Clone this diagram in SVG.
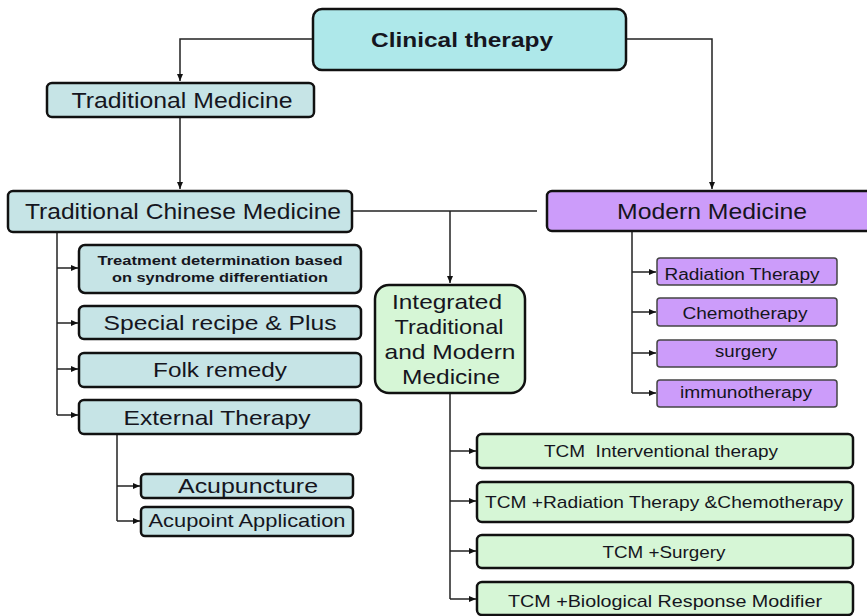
<svg xmlns="http://www.w3.org/2000/svg" width="867" height="616" viewBox="0 0 867 616">
<style>
  .box{stroke:#111;stroke-width:2.5}
  .top{fill:#aee8ea}
  .tcm{fill:#c6e4e6}
  .mod{fill:#cc9cfa}
  .sub{fill:#cc9cfa;stroke:#444;stroke-width:1.5}
  .grn{fill:#d6f6d6}
  .t{font-family:"Liberation Sans",Arial,sans-serif;fill:#151520;text-anchor:middle}
  .c{stroke:#222;stroke-width:1.5;fill:none}
</style>
<defs>
  <marker id="ah" markerWidth="8" markerHeight="8" refX="7" refY="4" orient="auto" markerUnits="userSpaceOnUse">
    <path d="M0,1 L7,4 L0,7 Z" fill="#111"/>
  </marker>
</defs>
<rect width="867" height="616" fill="#fff"/>
<g id="connectors">
  <path class="c" d="M313,39 H180 V81" marker-end="url(#ah)"/>
  <path class="c" d="M626,39 H712 V189" marker-end="url(#ah)"/>
  <path class="c" d="M180,117 V189" marker-end="url(#ah)"/>
  <path class="c" d="M352,211 H537"/>
  <path class="c" d="M450,211 V283" marker-end="url(#ah)"/>
  <path class="c" d="M57,232 V415"/>
  <path class="c" d="M57,268 H78" marker-end="url(#ah)"/>
  <path class="c" d="M57,323 H78" marker-end="url(#ah)"/>
  <path class="c" d="M57,369 H78" marker-end="url(#ah)"/>
  <path class="c" d="M57,415 H78" marker-end="url(#ah)"/>
  <path class="c" d="M117,434 V521"/>
  <path class="c" d="M117,486 H140" marker-end="url(#ah)"/>
  <path class="c" d="M117,521 H140" marker-end="url(#ah)"/>
  <path class="c" d="M632,231 V393"/>
  <path class="c" d="M632,272 H656" marker-end="url(#ah)"/>
  <path class="c" d="M632,312 H656" marker-end="url(#ah)"/>
  <path class="c" d="M632,353 H656" marker-end="url(#ah)"/>
  <path class="c" d="M632,393 H656" marker-end="url(#ah)"/>
  <path class="c" d="M450,393 V599"/>
  <path class="c" d="M450,451 H476" marker-end="url(#ah)"/>
  <path class="c" d="M450,501 H476" marker-end="url(#ah)"/>
  <path class="c" d="M450,551 H476" marker-end="url(#ah)"/>
  <path class="c" d="M450,599 H476" marker-end="url(#ah)"/>
</g>
<g id="clinical">
  <rect class="box top" x="313" y="9" width="313" height="61" rx="9"/>
  <text class="t" x="462" y="47" font-size="21" font-weight="bold" textLength="182" lengthAdjust="spacingAndGlyphs">Clinical therapy</text>
</g>
<g id="traditional">
  <rect class="box tcm" x="47" y="83" width="267" height="34" rx="5"/>
  <text class="t" x="182" y="108" font-size="22" textLength="221" lengthAdjust="spacingAndGlyphs">Traditional Medicine</text>
</g>
<g id="tcm">
  <rect class="box tcm" x="8" y="191" width="344" height="41" rx="5"/>
  <text class="t" x="183" y="219" font-size="22" textLength="316" lengthAdjust="spacingAndGlyphs">Traditional Chinese Medicine</text>
</g>
<g id="modern">
  <rect class="box mod" x="547" y="191" width="330" height="40" rx="5"/>
  <text class="t" x="712" y="219" font-size="22" textLength="190" lengthAdjust="spacingAndGlyphs">Modern Medicine</text>
</g>
<g id="treatment">
  <rect class="box tcm" x="79" y="245" width="282" height="48" rx="6"/>
  <text class="t" x="220" y="265" font-size="13" font-weight="bold" textLength="245" lengthAdjust="spacingAndGlyphs">Treatment determination based</text>
  <text class="t" x="220" y="282" font-size="13" font-weight="bold" textLength="216" lengthAdjust="spacingAndGlyphs">on syndrome differentiation</text>
</g>
<g id="special">
  <rect class="box tcm" x="79" y="306" width="282" height="33" rx="5"/>
  <text class="t" x="220" y="330" font-size="21" textLength="233" lengthAdjust="spacingAndGlyphs">Special recipe &amp; Plus</text>
</g>
<g id="folk">
  <rect class="box tcm" x="79" y="353" width="282" height="34" rx="5"/>
  <text class="t" x="220" y="377" font-size="21" textLength="134" lengthAdjust="spacingAndGlyphs">Folk remedy</text>
</g>
<g id="external">
  <rect class="box tcm" x="79" y="400" width="282" height="34" rx="5"/>
  <text class="t" x="217" y="425" font-size="21" textLength="187" lengthAdjust="spacingAndGlyphs">External Therapy</text>
</g>
<g id="acupuncture">
  <rect class="box tcm" x="141" y="474" width="212" height="24" rx="4"/>
  <text class="t" x="248" y="493" font-size="20" textLength="140" lengthAdjust="spacingAndGlyphs">Acupuncture</text>
</g>
<g id="acupoint">
  <rect class="box tcm" x="141" y="507" width="212" height="29" rx="4"/>
  <text class="t" x="247" y="527" font-size="19" textLength="197" lengthAdjust="spacingAndGlyphs">Acupoint Application</text>
</g>
<g id="integrated">
  <rect class="box grn" x="375" y="285" width="150" height="108" rx="14"/>
  <text class="t" x="447" y="309" font-size="21" textLength="110" lengthAdjust="spacingAndGlyphs">Integrated</text>
  <text class="t" x="449" y="334" font-size="21" textLength="109" lengthAdjust="spacingAndGlyphs">Traditional</text>
  <text class="t" x="450" y="359" font-size="21" textLength="131" lengthAdjust="spacingAndGlyphs">and Modern</text>
  <text class="t" x="451" y="384" font-size="21" textLength="98" lengthAdjust="spacingAndGlyphs">Medicine</text>
</g>
<g id="radiation">
  <rect class="sub" x="657" y="258" width="180" height="27" rx="3"/>
  <text class="t" x="742" y="280" font-size="16" textLength="155" lengthAdjust="spacingAndGlyphs">Radiation Therapy</text>
</g>
<g id="chemo">
  <rect class="sub" x="657" y="298" width="180" height="28" rx="3"/>
  <text class="t" x="745" y="319" font-size="16" textLength="125" lengthAdjust="spacingAndGlyphs">Chemotherapy</text>
</g>
<g id="surgery">
  <rect class="sub" x="657" y="340" width="180" height="27" rx="3"/>
  <text class="t" x="746" y="357" font-size="16" textLength="62" lengthAdjust="spacingAndGlyphs">surgery</text>
</g>
<g id="immuno">
  <rect class="sub" x="657" y="380" width="180" height="27" rx="3"/>
  <text class="t" x="746" y="398" font-size="16" textLength="132" lengthAdjust="spacingAndGlyphs">immunotherapy</text>
</g>
<g id="tcm-interv">
  <rect class="box grn" x="477" y="434" width="376" height="34" rx="5"/>
  <text class="t" x="661" y="457" font-size="17" textLength="234" lengthAdjust="spacingAndGlyphs" xml:space="preserve">TCM  Interventional therapy</text>
</g>
<g id="tcm-rad">
  <rect class="box grn" x="477" y="482" width="376" height="40" rx="5"/>
  <text class="t" x="664" y="508" font-size="17" textLength="358" lengthAdjust="spacingAndGlyphs">TCM +Radiation Therapy &amp;Chemotherapy</text>
</g>
<g id="tcm-surg">
  <rect class="box grn" x="477" y="535" width="376" height="33" rx="5"/>
  <text class="t" x="664" y="558" font-size="17" textLength="123" lengthAdjust="spacingAndGlyphs">TCM +Surgery</text>
</g>
<g id="tcm-brm">
  <rect class="box grn" x="477" y="582" width="376" height="33" rx="5"/>
  <text class="t" x="665" y="607" font-size="17" textLength="314" lengthAdjust="spacingAndGlyphs">TCM +Biological Response Modifier</text>
</g>
</svg>
